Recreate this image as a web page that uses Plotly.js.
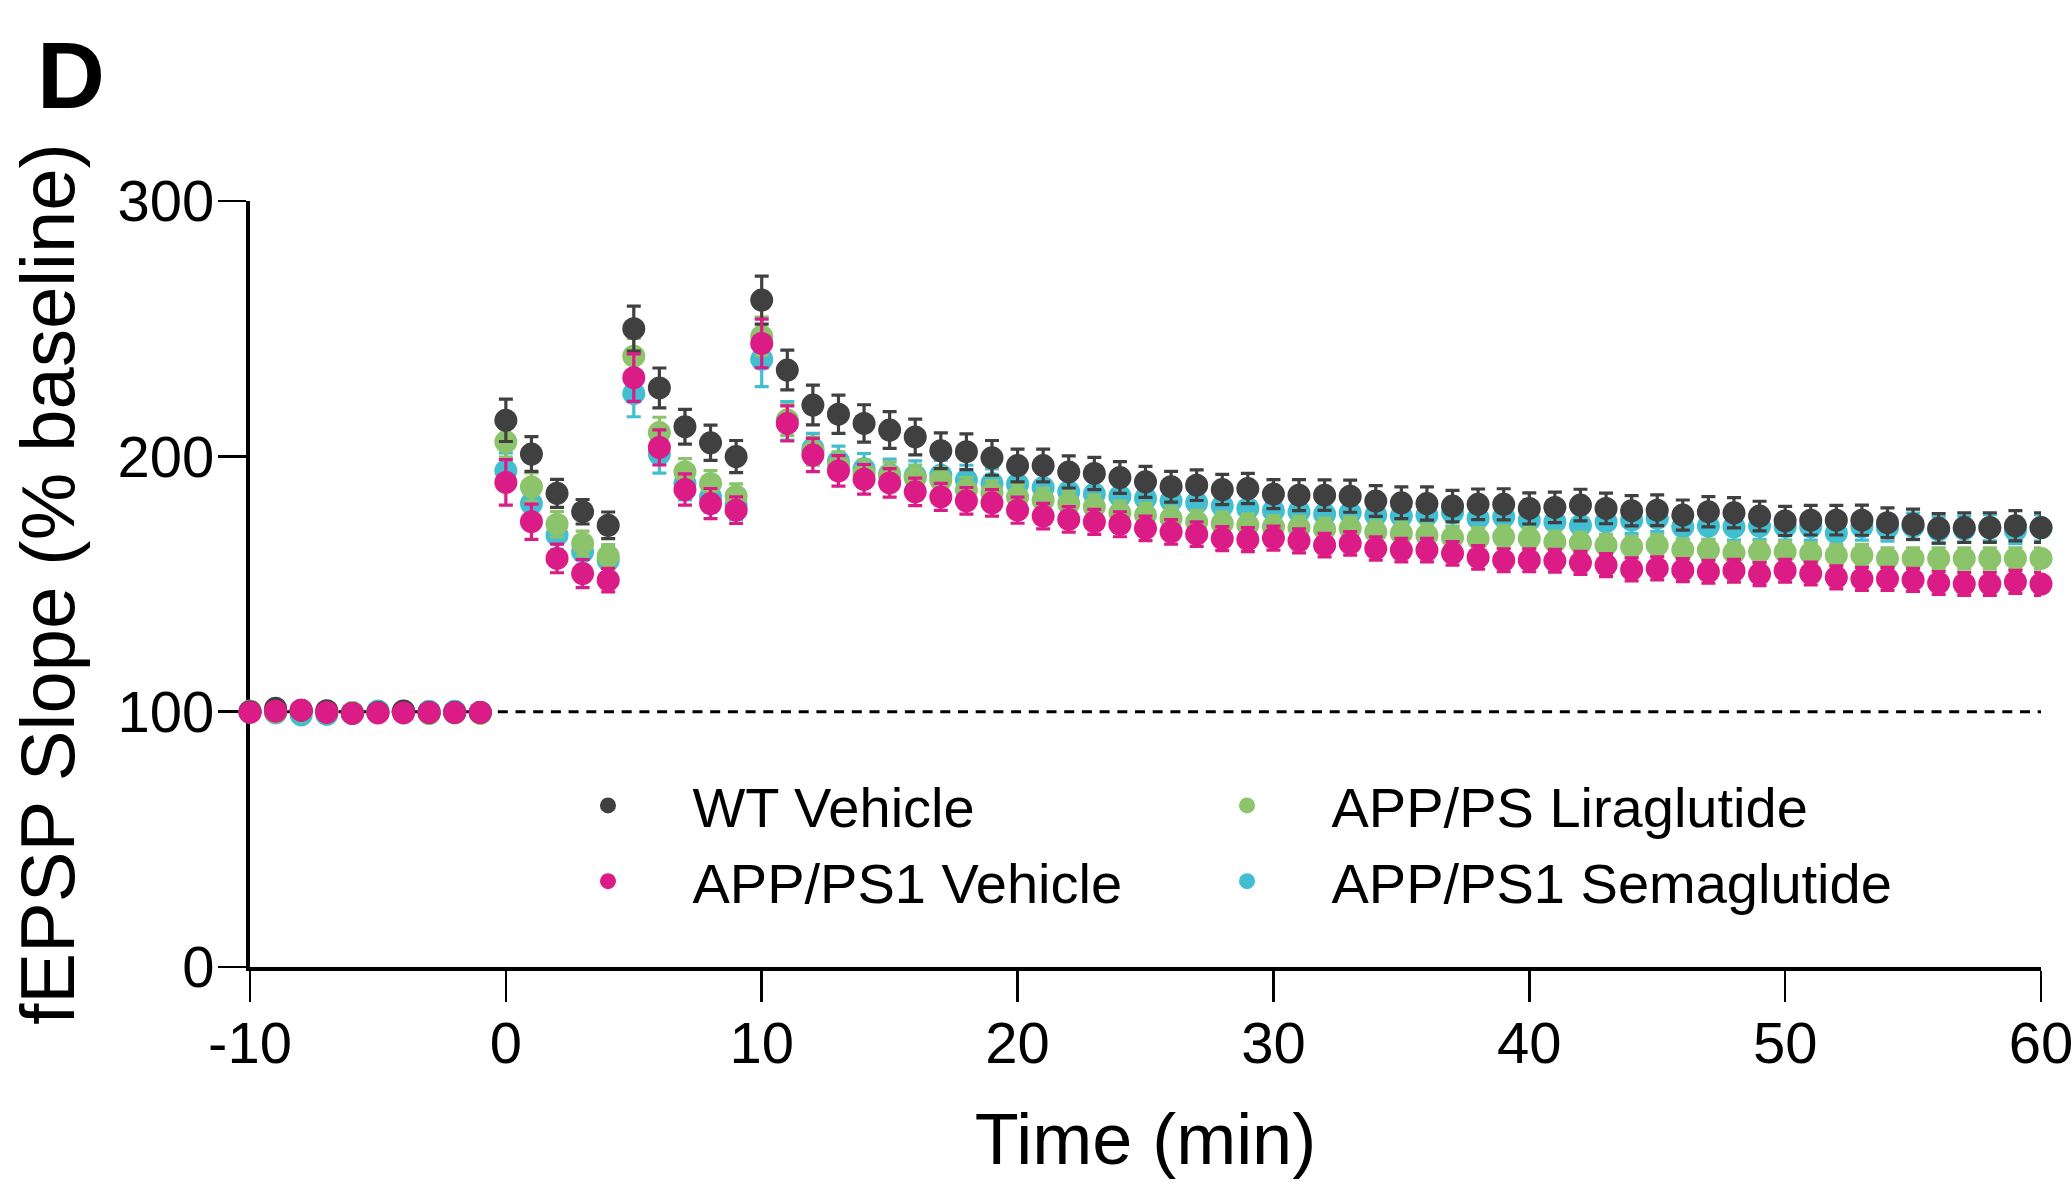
<!DOCTYPE html>
<html>
<head>
<meta charset="utf-8">
<script src="https://cdn.plot.ly/plotly-3.0.1.min.js"></script>
<style>
  html, body { margin: 0; padding: 0; background: #ffffff; }
  #chart { width: 2071px; height: 1182px; }
</style>
</head>
<body>
<div id="chart"></div>
<script>
// ---- Data ----
const time = [-10, -9, -8, -7, -6, -5, -4, -3, -2, -1,
  0, 1, 2, 3, 4, 5, 6, 7, 8, 9, 10, 11,
  12, 13, 14, 15, 16, 17, 18, 19, 20, 21, 22, 23, 24, 25, 26, 27, 28, 29, 30, 31,
  32, 33, 34, 35, 36, 37, 38, 39, 40, 41, 42, 43, 44, 45, 46, 47, 48, 49, 50,
  51, 52, 53, 54, 55, 56, 57, 58, 59, 60];

const wtVehicle = [100, 101.3, 100.6, 100.4, 99.3, 99.7, 100.3, 99.7, 99.7, 99.7,
  214.1, 200.9, 185.5, 178.3, 173.0, 250.0, 226.8, 211.6, 205.3, 199.9, 261.2, 233.8,
  220.1, 216.5, 212.9, 210.3, 207.6, 202.2, 201.8, 199.4, 196.4, 196.4, 193.9, 193.3, 191.7, 190.0, 188.1, 188.7, 187.0, 187.4, 185.2, 184.8,
  184.8, 184.4, 182.5, 181.8, 181.5, 180.5, 181.2, 181.2, 179.6, 180.0, 180.9, 179.6, 178.7, 178.9, 177.0, 178.3, 177.9, 176.6, 174.7,
  175.0, 175.0, 175.0, 174.0, 173.4, 171.8, 172.1, 172.1, 172.8, 172.1];
const wtVehicleErr = [1.2, 1.2, 1.2, 1.2, 1.2, 1.2, 1.2, 1.2, 1.2, 1.2,
  8.3, 6.8, 5.5, 4.8, 5.2, 8.8, 7.8, 6.8, 6.9, 6.3, 9.4, 7.8,
  7.8, 7.5, 7.3, 7.2, 7.0, 7.0, 7.0, 6.8, 6.4, 6.4, 6.3, 6.3, 6.2, 6.1, 6.0, 6.0, 5.9, 5.9, 5.7, 6.1,
  6.0, 6.3, 6.0, 6.2, 6.5, 6.2, 6.0, 6.1, 6.1, 6.0, 6.2, 6.0, 5.9, 6.0, 5.9, 5.9, 5.9, 5.8, 5.7,
  5.8, 5.8, 5.9, 5.8, 5.9, 5.8, 5.8, 5.8, 5.9, 5.8];

const appVehicle = [99.7, 100.2, 100.6, 99.7, 99.3, 99.5, 99.5, 99.7, 99.7, 99.7,
  189.8, 174.4, 160.0, 154.1, 151.5, 230.8, 203.5, 187.0, 181.5, 178.9, 244.2, 212.9,
  200.5, 194.3, 191.0, 189.6, 186.1, 184.1, 182.6, 181.8, 178.9, 176.6, 175.3, 174.3, 173.4, 171.8, 170.4, 169.5, 167.8, 167.4, 168.0, 166.9,
  165.2, 165.9, 163.9, 163.3, 163.3, 162.0, 160.4, 159.3, 159.3, 159.1, 158.3, 157.4, 155.7, 156.1, 155.4, 154.8, 155.2, 153.9, 155.2,
  154.1, 152.6, 152.0, 152.0, 151.6, 150.4, 150.0, 150.0, 150.8, 150.0];
const appVehicleErr = [1.0, 1.0, 1.0, 1.0, 1.0, 1.0, 1.0, 1.0, 1.0, 1.0,
  8.9, 6.9, 5.6, 5.5, 4.6, 9.3, 6.9, 6.1, 5.9, 5.2, 9.5, 6.9,
  6.5, 6.0, 5.8, 5.6, 5.4, 5.3, 5.2, 5.2, 5.1, 5.0, 5.0, 4.9, 4.9, 4.8, 4.8, 4.8, 4.7, 4.7, 4.7, 4.7,
  4.6, 4.6, 4.6, 4.6, 4.6, 4.6, 4.6, 4.5, 4.5, 4.5, 4.5, 4.5, 4.5, 4.5, 4.5, 4.5, 4.5, 4.5, 4.5,
  4.5, 4.5, 4.5, 4.5, 4.5, 4.5, 4.5, 4.5, 4.5, 4.5];

const appLiraglutide = [100.3, 99.8, 100.3, 99.8, 99.7, 99.8, 99.8, 99.2, 99.5, 99.3,
  205.7, 188.0, 173.4, 165.9, 160.9, 239.2, 209.3, 193.9, 189.4, 184.4, 247.0, 214.2,
  202.0, 196.5, 193.3, 192.6, 191.6, 190.7, 186.8, 185.7, 184.1, 182.8, 181.5, 180.2, 177.9, 177.0, 175.7, 174.3, 173.7, 173.1, 172.4, 172.1,
  171.4, 171.8, 170.4, 169.8, 169.1, 168.2, 167.8, 168.5, 167.8, 166.5, 166.1, 165.2, 164.6, 165.2, 163.5, 163.3, 162.2, 162.6, 162.6,
  162.0, 161.3, 161.3, 160.0, 160.0, 160.0, 160.0, 160.0, 160.0, 160.0];
const appLiraglutideErr = [1.0, 1.0, 1.0, 1.0, 1.0, 1.0, 1.0, 1.0, 1.0, 1.0,
  6.0, 5.5, 5.0, 4.8, 4.5, 7.0, 6.0, 5.2, 5.0, 4.8, 7.5, 6.0,
  5.5, 5.3, 5.2, 5.1, 5.0, 4.9, 4.9, 4.8, 4.8, 4.7, 4.7, 4.6, 4.6, 4.6, 4.5, 4.5, 4.5, 4.4, 4.4, 4.4,
  4.4, 4.4, 4.3, 4.3, 4.3, 4.3, 4.3, 4.3, 4.3, 4.2, 4.2, 4.2, 4.2, 4.2, 4.2, 4.2, 4.2, 4.2, 4.2,
  4.2, 4.2, 4.2, 4.2, 4.2, 4.2, 4.2, 4.2, 4.2, 4.2];

const appSemaglutide = [99.9, 99.5, 98.7, 98.9, 99.7, 100.3, 100.2, 100.2, 100.2, 99.8,
  194.3, 181.5, 169.1, 162.6, 159.3, 224.6, 200.9, 189.4, 184.1, 180.9, 238.0, 213.9,
  203.0, 198.0, 195.1, 193.0, 192.3, 192.6, 190.7, 189.4, 189.1, 187.8, 186.1, 185.2, 184.4, 183.5, 182.6, 181.8, 180.5, 179.6, 178.7, 178.3,
  177.4, 177.9, 177.0, 176.6, 177.0, 178.0, 175.7, 176.3, 175.0, 174.3, 173.0, 174.3, 175.0, 175.7, 172.4, 172.7, 172.4, 172.7, 172.4,
  172.4, 170.0, 172.4, 172.0, 172.6, 171.1, 171.5, 172.1, 171.0, 172.0];
const appSemaglutideErr = [1.2, 1.2, 1.2, 1.2, 1.2, 1.2, 1.2, 1.2, 1.2, 1.2,
  7.0, 6.0, 5.5, 5.2, 5.0, 9.1, 7.5, 6.5, 6.0, 5.8, 10.7, 7.5,
  6.0, 6.0, 6.0, 5.9, 5.9, 5.8, 5.8, 5.7, 5.7, 5.6, 5.6, 5.6, 5.5, 5.5, 5.5, 5.5, 5.4, 5.4, 5.4, 5.4,
  5.4, 5.3, 5.3, 5.3, 5.3, 5.3, 5.3, 5.3, 5.3, 5.3, 5.3, 5.2, 5.2, 5.2, 5.2, 5.2, 5.2, 5.2, 5.2,
  5.2, 5.2, 5.2, 5.2, 5.2, 5.2, 5.2, 5.2, 5.2, 5.2];

const seriesNames = ['WT Vehicle', 'APP/PS Liraglutide', 'APP/PS1 Vehicle', 'APP/PS1 Semaglutide'];
const baselineValue = 100;

const xTickVals = [-10, 0, 10, 20, 30, 40, 50, 60];
const xTickText = ['-10', '0', '10', '20', '30', '40', '50', '60'];
const yTickVals = [0, 100, 200, 300];
const yTickText = ['0', '100', '200', '300'];

// ---- Styling ----
const FONT = 'Liberation Sans, Arial, Helvetica, sans-serif';
const colors = {
  wt: '#404040',
  vehicle: '#DB1B86',
  lira: '#8BC46B',
  sema: '#42BED3'
};

function makeTrace(name, y, err, color, rank, legendId) {
  return {
    type: 'scatter',
    mode: 'markers',
    name: name,
    x: time,
    y: y,
    legend: legendId,
    legendrank: rank,
    cliponaxis: false,
    marker: { color: color, size: 23, line: { width: 0 } },
    error_y: { type: 'data', array: err, visible: true, color: color, thickness: 3.2, width: 7 }
  };
}

// drawing order (bottom -> top): Semaglutide, Liraglutide, WT, APP/PS1 Vehicle
const data = [
  makeTrace(seriesNames[3], appSemaglutide, appSemaglutideErr, colors.sema, 2, 'legend2'),
  makeTrace(seriesNames[1], appLiraglutide, appLiraglutideErr, colors.lira, 1, 'legend2'),
  makeTrace(seriesNames[0], wtVehicle, wtVehicleErr, colors.wt, 1, 'legend'),
  makeTrace(seriesNames[2], appVehicle, appVehicleErr, colors.vehicle, 2, 'legend')
];

const legendCommon = {
  orientation: 'v',
  xanchor: 'left',
  yanchor: 'top',
  y: 0.267,
  itemwidth: 159,
  traceorder: 'normal',
  font: { family: FONT, size: 56, color: '#000000' },
  bgcolor: 'rgba(0,0,0,0)',
  borderwidth: 0,
  itemclick: false,
  itemdoubleclick: false
};

const layout = {
  width: 2071,
  height: 1182,
  paper_bgcolor: '#ffffff',
  plot_bgcolor: '#ffffff',
  margin: { l: 250, r: 30, t: 201, b: 215 },
  font: { family: FONT, color: '#000000', size: 58 },
  showlegend: true,
  legend: Object.assign({}, legendCommon, { x: 0.1527 }),
  legend2: Object.assign({}, legendCommon, { x: 0.5095 }),
  xaxis: {
    range: [-10, 60],
    tickmode: 'array',
    tickvals: xTickVals,
    ticktext: xTickText,
    ticks: 'outside',
    ticklen: 31,
    tickwidth: 2.5,
    tickcolor: '#000000',
    showline: true,
    linecolor: '#000000',
    linewidth: 4,
    showgrid: false,
    zeroline: false,
    layer: 'below traces',
    tickfont: { family: FONT, size: 58, color: '#000000' },
    ticklabelstandoff: -9,
    ticklabeloverflow: 'allow',
    title: { text: 'Time (min)', font: { family: FONT, size: 72, color: '#000000' }, standoff: 41 },
    automargin: false
  },
  yaxis: {
    range: [0, 300],
    tickmode: 'array',
    tickvals: yTickVals,
    ticktext: yTickText,
    ticks: 'outside',
    ticklen: 28,
    tickwidth: 2.5,
    tickcolor: '#000000',
    showline: true,
    linecolor: '#000000',
    linewidth: 4,
    showgrid: false,
    zeroline: false,
    layer: 'below traces',
    tickfont: { family: FONT, size: 58, color: '#000000' },
    ticklabelstandoff: -8,
    ticklabeloverflow: 'allow',
    title: { text: 'fEPSP Slope (% baseline)', font: { family: FONT, size: 76, color: '#000000' }, standoff: 19 },
    automargin: false
  },
  shapes: [{
    type: 'line',
    xref: 'x', yref: 'y',
    x0: time[0], x1: time[time.length - 1],
    y0: baselineValue, y1: baselineValue,
    layer: 'below',
    line: { color: '#000000', width: 3, dash: '10px,7.7px' }
  }],
  annotations: [{
    text: '<b>D</b>',
    xref: 'paper', yref: 'paper',
    x: -0.12, y: 1.164,
    xanchor: 'left', yanchor: 'middle',
    showarrow: false,
    font: { family: FONT, size: 94, color: '#000000' }
  }]
};

Plotly.newPlot('chart', data, layout, { displayModeBar: false, staticPlot: true });
</script>
</body>
</html>
